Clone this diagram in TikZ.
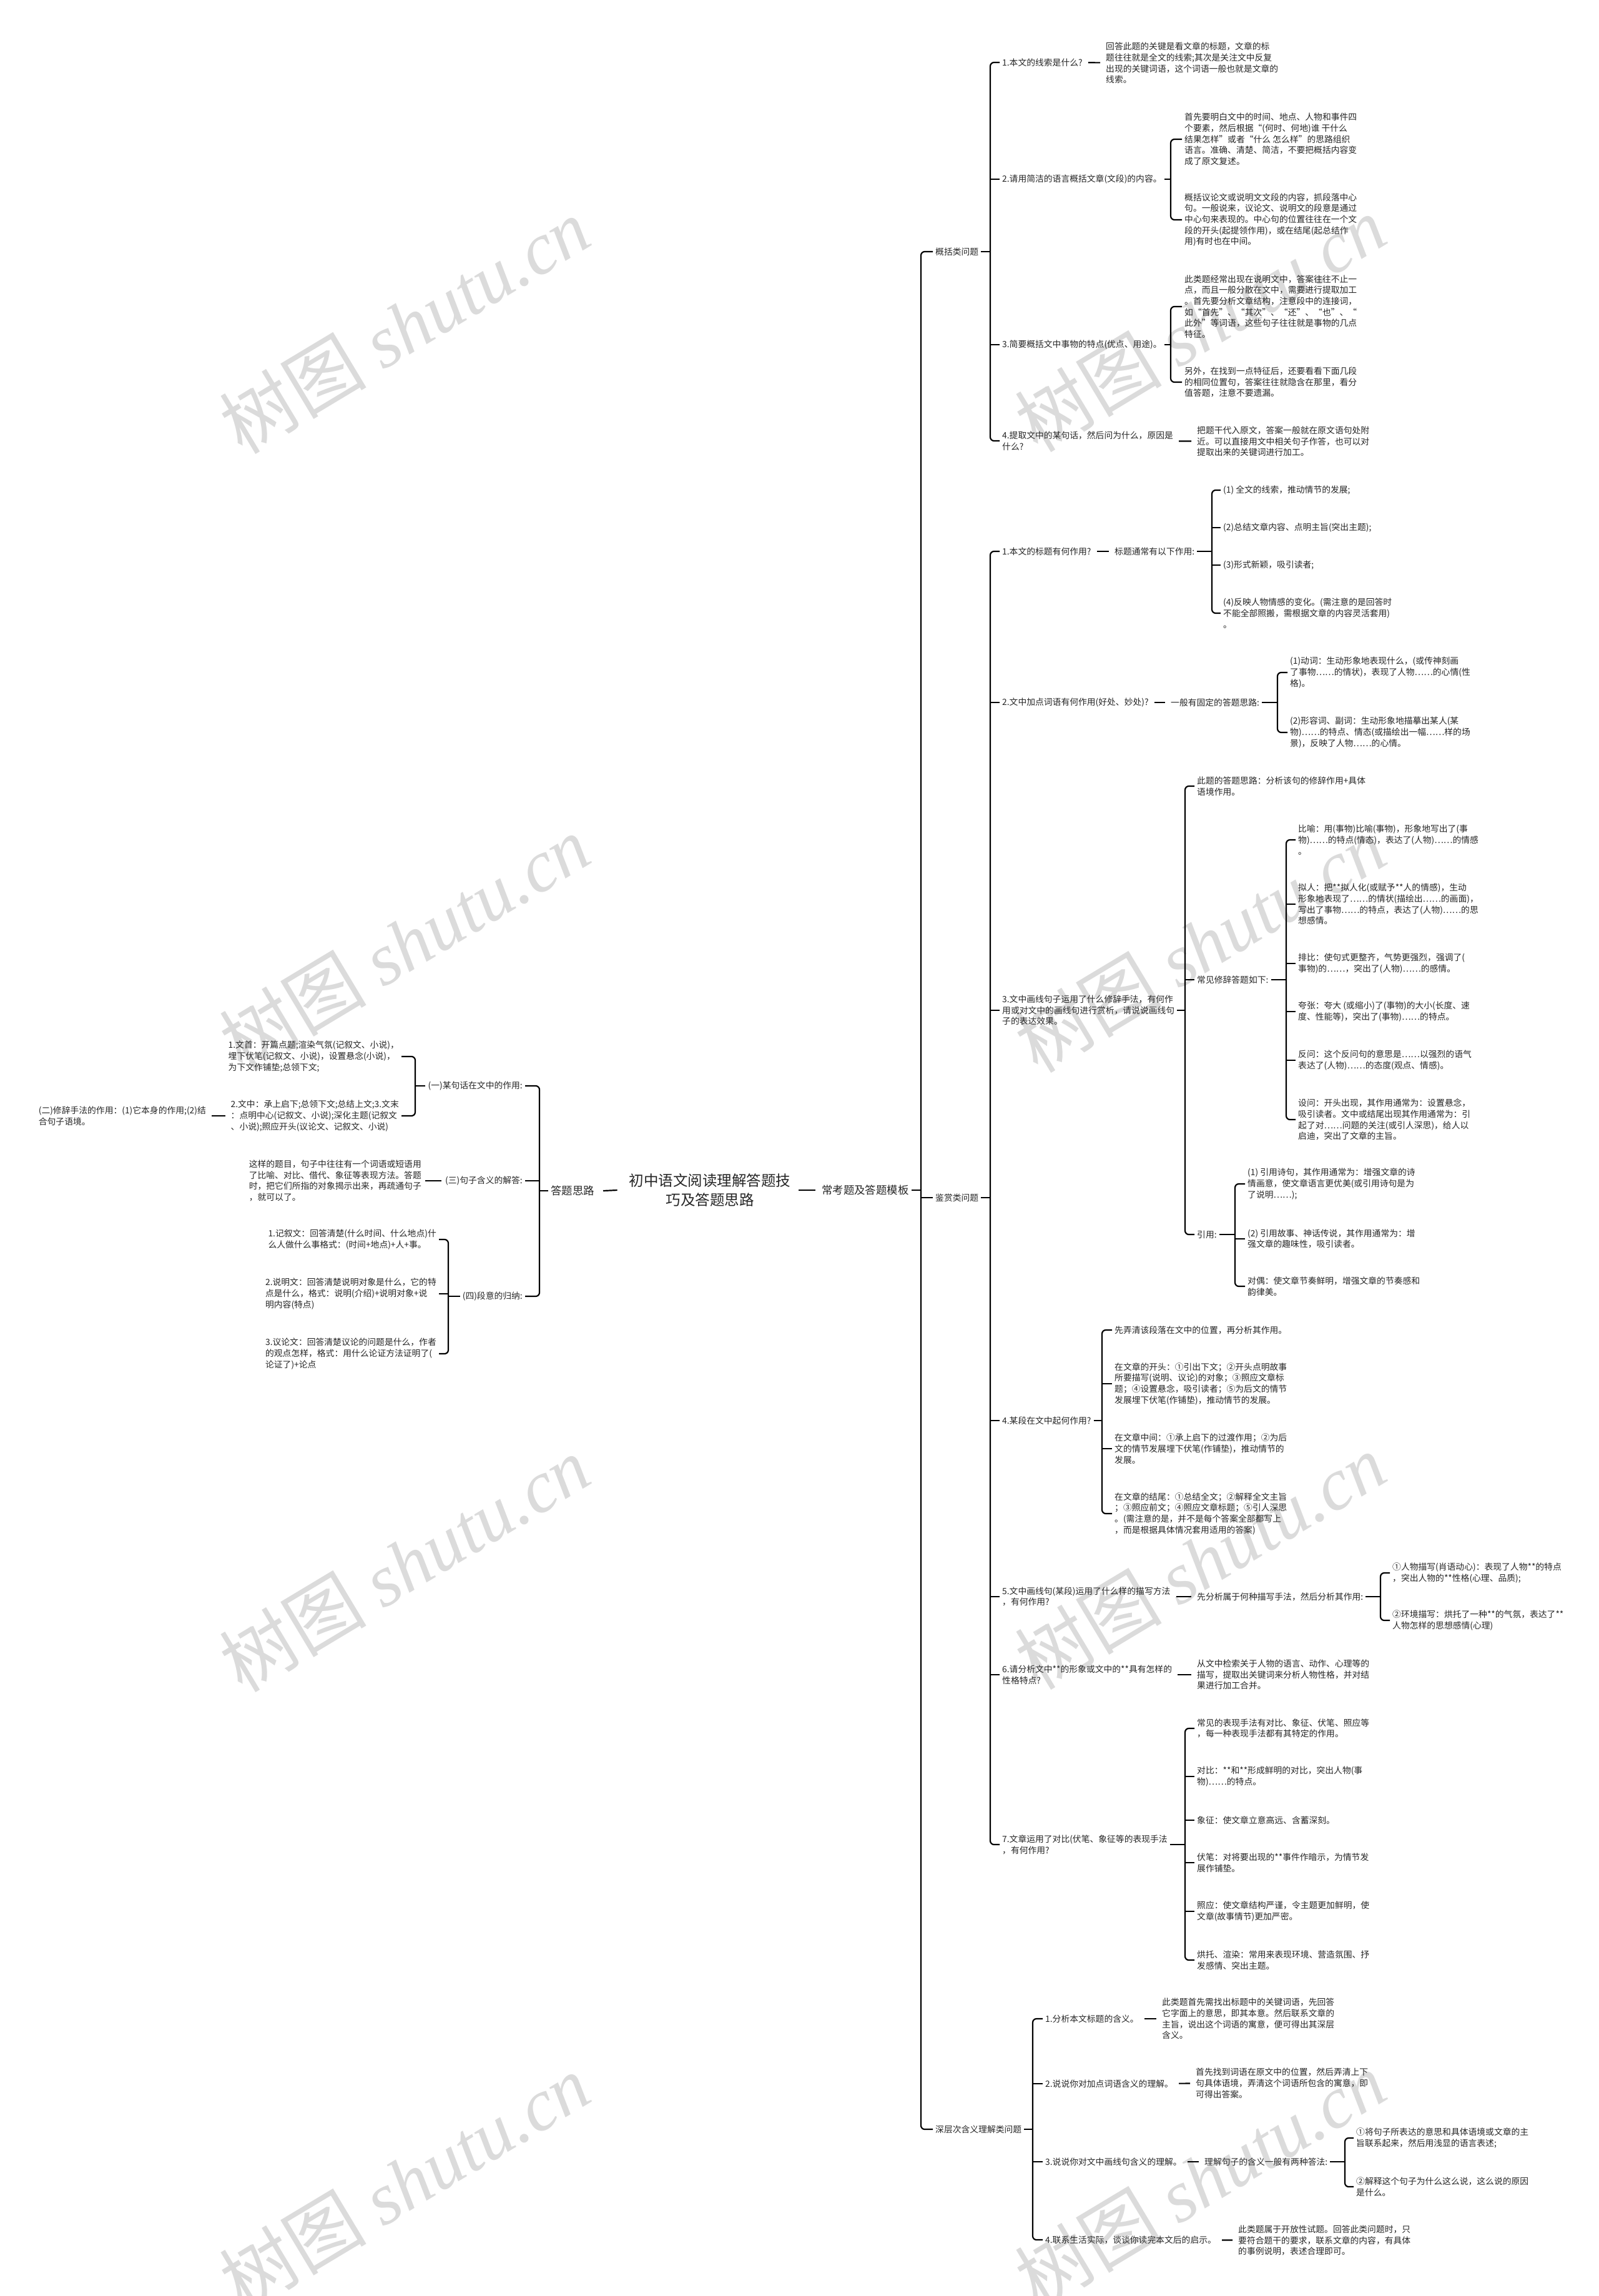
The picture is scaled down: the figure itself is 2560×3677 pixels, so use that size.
\documentclass[tikz,border=0pt]{standalone}
\usepackage{fontspec}
\setmainfont{Noto Sans CJK SC}
\newfontfamily\wmserif{Liberation Serif}
\newcommand\mmR[3]{\draw[conn,rounded corners=6pt] (#1.west) -- (#1.west -| #3) -- (#2.west -| #3) -- (#2.west);}
\newcommand\mmT[2]{\draw[conn] (#1.west -| #2) -- (#1.west);}
\newcommand\mmP[2]{\draw[conn] (#1.east) -- (#1.east -| #2);}
\newcommand\mmRL[3]{\draw[conn,rounded corners=6pt] (#1.east) -- (#1.east -| #3) -- (#2.east -| #3) -- (#2.east);}
\newcommand\mmTL[2]{\draw[conn] (#1.east -| #2) -- (#1.east);}
\newcommand\mmPL[2]{\draw[conn] (#1.west) -- (#1.west -| #2);}
\begin{document}
\begin{tikzpicture}[x=1pt,y=-1pt,
  conn/.style={line width=2.2pt,draw=black},
  link/.style={conn,shorten >=5pt,shorten <=5pt},
  tx/.style={font=\fontsize{13.8}{17.7}\selectfont,align=left,inner xsep=4pt,inner ysep=1pt,text=black!85},
  rt/.style={tx,anchor=west},
  lt/.style={tx,anchor=east},
  big/.style={font=\fontsize{17.4}{21}\selectfont,inner xsep=4pt,inner ysep=1pt,text=black!85},
  wm/.style={font=\fontsize{118}{118}\selectfont,text=black!14,rotate=31,inner sep=0pt}]
\useasboundingbox[fill=white] (0,0) rectangle (2560,3677);
% watermarks
\foreach \wx/\wy [count=\i] in {648/521,1922/518,648/1510,1922/1512,648/2504,1922/2500,648/3494,1922/3490}
  \node[wm] (wm\i) at (\wx,\wy) {树图 {\wmserif\itshape shutu.cn}};
% trunk coordinates
\coordinate (T0) at (1475,0);
\coordinate (TA) at (1586,0);
\coordinate (TA2) at (1875,0);
\coordinate (TA3) at (1875,0);
\coordinate (TB) at (1586,0);
\coordinate (TB1) at (1941,0);
\coordinate (TB2) at (2046,0);
\coordinate (TB3) at (1898,0);
\coordinate (TB3b) at (2060,0);
\coordinate (TB3c) at (1978,0);
\coordinate (TB4) at (1765,0);
\coordinate (TB5) at (2211,0);
\coordinate (TB7) at (1898,0);
\coordinate (TC) at (1654,0);
\coordinate (TC3) at (2154,0);
\coordinate (TL) at (864,0);
\coordinate (TL1) at (665,0);
\coordinate (TL3) at (718,0);
% root
\node[font=\fontsize{23.5}{31}\selectfont,align=center,inner sep=0pt,text=black!85] (R) at (1137,1906) {初中语文阅读理解答题技\\巧及答题思路};
\node[big,anchor=east] (L0) at (956,1907) {答题思路};
\node[big,anchor=west] (R0) at (1312,1906) {常考题及答题模板};
\draw[conn] ([xshift=-19pt]R.west) -- ([xshift=10pt]L0.east);
\draw[conn] ([xshift=13pt]R.east) -- ([xshift=-6pt]R0.west);
% level 1 right
\node[rt] (A) at (1494,403) {概括类问题};
\node[rt] (B) at (1494,1918) {鉴赏类问题};
\node[rt] (C) at (1494,3410) {深层次含义理解类问题};
\mmP{R0}{T0} \mmR{A}{C}{T0} \mmT{B}{T0}
% A
\node[rt] (A1) at (1601,100) {1.本文的线索是什么?};
\node[rt] (A2) at (1601,287) {2.请用简洁的语言概括文章(文段)的内容。};
\node[rt] (A3) at (1601,552) {3.简要概括文中事物的特点(优点、用途)。};
\node[rt] (A4) at (1601,706) {4.提取文中的某句话，然后问为什么，原因是\\什么?};
\mmP{A}{TA} \mmR{A1}{A4}{TA} \mmT{A2}{TA} \mmT{A3}{TA}
\node[rt] (A1L) at (1767,101) {回答此题的关键是看文章的标题，文章的标\\题往往就是全文的线索;其次是关注文中反复\\出现的关键词语，这个词语一般也就是文章的\\线索。};
\draw[link] (A1) -- (A1L);
\node[rt] (A2a) at (1893,223) {首先要明白文中的时间、地点、人物和事件四\\个要素，然后根据“(何时、何地)谁 干什么\\结果怎样”或者“什么 怎么样”的思路组织\\语言。准确、清楚、简洁，不要把概括内容变\\成了原文复述。};
\node[rt] (A2b) at (1893,352) {概括议论文或说明文文段的内容，抓段落中心\\句。一般说来，议论文、说明文的段意是通过\\中心句来表现的。中心句的位置往往在一个文\\段的开头(起提领作用)，或在结尾(起总结作\\用)有时也在中间。};
\mmP{A2}{TA2} \mmR{A2a}{A2b}{TA2}
\node[rt] (A3a) at (1893,491) {此类题经常出现在说明文中，答案往往不止一\\点，而且一般分散在文中，需要进行提取加工\\。首先要分析文章结构，注意段中的连接词，\\如“首先”、“其次”、“还”、“也”、“\\此外”等词语，这些句子往往就是事物的几点\\特征。};
\node[rt] (A3b) at (1893,612) {另外，在找到一点特征后，还要看看下面几段\\的相同位置句，答案往往就隐含在那里，看分\\值答题，注意不要遗漏。};
\mmP{A3}{TA3} \mmR{A3a}{A3b}{TA3}
\node[rt] (A4L) at (1913,707) {把题干代入原文，答案一般就在原文语句处附\\近。可以直接用文中相关句子作答，也可以对\\提取出来的关键词进行加工。};
\draw[link] (A4) -- (A4L);
% B
\node[rt] (B1) at (1601,883) {1.本文的标题有何作用?};
\node[rt] (B2) at (1601,1125) {2.文中加点词语有何作用(好处、妙处)?};
\node[rt] (B3) at (1601,1618) {3.文中画线句子运用了什么修辞手法，有何作\\用或对文中的画线句进行赏析，请说说画线句\\子的表达效果。};
\node[rt] (B4) at (1601,2275) {4.某段在文中起何作用?};
\node[rt] (B5) at (1601,2557) {5.文中画线句(某段)运用了什么样的描写方法\\，有何作用?};
\node[rt] (B6) at (1601,2682) {6.请分析文中**的形象或文中的**具有怎样的\\性格特点?};
\node[rt] (B7) at (1601,2954) {7.文章运用了对比(伏笔、象征等的表现手法\\，有何作用?};
\mmP{B}{TB} \mmR{B1}{B7}{TB} \mmT{B2}{TB} \mmT{B3}{TB} \mmT{B4}{TB} \mmT{B5}{TB} \mmT{B6}{TB}
% B1
\node[rt] (B1m) at (1781,883) {标题通常有以下作用:};
\draw[link] (B1) -- (B1m);
\node[rt] (B1a) at (1955,785) {(1) 全文的线索，推动情节的发展;};
\node[rt] (B1b) at (1955,845) {(2)总结文章内容、点明主旨(突出主题);};
\node[rt] (B1c) at (1955,905) {(3)形式新颖，吸引读者;};
\node[rt] (B1d) at (1955,982) {(4)反映人物情感的变化。(需注意的是回答时\\不能全部照搬，需根据文章的内容灵活套用)\\。};
\mmP{B1m}{TB1} \mmR{B1a}{B1d}{TB1} \mmT{B1b}{TB1} \mmT{B1c}{TB1}
% B2
\node[rt] (B2m) at (1871,1125) {一般有固定的答题思路:};
\draw[link] (B2) -- (B2m);
\node[rt] (B2a) at (2062,1077) {(1)动词：生动形象地表现什么，(或传神刻画\\了事物……的情状)，表现了人物……的心情(性\\格)。};
\node[rt] (B2b) at (2062,1173) {(2)形容词、副词：生动形象地描摹出某人(某\\物)……的特点、情态(或描绘出一幅……样的场\\景)，反映了人物……的心情。};
\mmP{B2m}{TB2} \mmR{B2a}{B2b}{TB2}
% B3
\node[rt] (B3a) at (1913,1259) {此题的答题思路：分析该句的修辞作用+具体\\语境作用。};
\node[rt] (B3b) at (1913,1569) {常见修辞答题如下:};
\node[rt] (B3c) at (1913,1977) {引用:};
\mmP{B3}{TB3} \mmR{B3a}{B3c}{TB3} \mmT{B3b}{TB3}
\node[rt] (B3b1) at (2075,1345) {比喻：用(事物)比喻(事物)，形象地写出了(事\\物)……的特点(情态)，表达了(人物)……的情感\\。};
\node[rt] (B3b2) at (2075,1448) {拟人：把**拟人化(或赋予**人的情感)，生动\\形象地表现了……的情状(描绘出……的画面)，\\写出了事物……的特点，表达了(人物)……的思\\想感情。};
\node[rt] (B3b3) at (2075,1543) {排比：使句式更整齐，气势更强烈，强调了(\\事物)的……，突出了(人物)……的感情。};
\node[rt] (B3b4) at (2075,1620) {夸张：夸大 (或缩小)了(事物)的大小(长度、速\\度、性能等)，突出了(事物)……的特点。};
\node[rt] (B3b5) at (2075,1698) {反问：这个反问句的意思是……以强烈的语气\\表达了(人物)……的态度(观点、情感)。};
\node[rt] (B3b6) at (2075,1793) {设问：开头出现，其作用通常为：设置悬念，\\吸引读者。文中或结尾出现其作用通常为：引\\起了对……问题的关注(或引人深思)，给人以\\启迪，突出了文章的主旨。};
\mmP{B3b}{TB3b} \mmR{B3b1}{B3b6}{TB3b} \mmT{B3b2}{TB3b} \mmT{B3b3}{TB3b} \mmT{B3b4}{TB3b} \mmT{B3b5}{TB3b}
\node[rt] (B3c1) at (1994,1896) {(1) 引用诗句，其作用通常为：增强文章的诗\\情画意，使文章语言更优美(或引用诗句是为\\了说明……);};
\node[rt] (B3c2) at (1994,1984) {(2) 引用故事、神话传说，其作用通常为：增\\强文章的趣味性，吸引读者。};
\node[rt] (B3c3) at (1994,2060) {对偶：使文章节奏鲜明，增强文章的节奏感和\\韵律美。};
\mmP{B3c}{TB3c} \mmR{B3c1}{B3c3}{TB3c} \mmT{B3c2}{TB3c}
% B4
\node[rt] (B4a) at (1781,2130) {先弄清该段落在文中的位置，再分析其作用。};
\node[rt] (B4b) at (1781,2216) {在文章的开头：①引出下文；②开头点明故事\\所要描写(说明、议论)的对象；③照应文章标\\题；④设置悬念，吸引读者；⑤为后文的情节\\发展埋下伏笔(作铺垫)，推动情节的发展。};
\node[rt] (B4c) at (1781,2320) {在文章中间：①承上启下的过渡作用；②为后\\文的情节发展埋下伏笔(作铺垫)，推动情节的\\发展。};
\node[rt] (B4d) at (1781,2424) {在文章的结尾：①总结全文；②解释全文主旨\\；③照应前文；④照应文章标题；⑤引人深思\\。(需注意的是，并不是每个答案全部都写上\\，而是根据具体情况套用适用的答案)};
\mmP{B4}{TB4} \mmR{B4a}{B4d}{TB4} \mmT{B4b}{TB4} \mmT{B4c}{TB4}
% B5
\node[rt] (B5m) at (1913,2557) {先分析属于何种描写手法，然后分析其作用:};
\draw[link] (B5) -- (B5m);
\node[rt] (B5a) at (2226,2519) {①人物描写(肖语动心)：表现了人物**的特点\\，突出人物的**性格(心理、品质);};
\node[rt] (B5b) at (2226,2595) {②环境描写：烘托了一种**的气氛，表达了**\\人物怎样的思想感情(心理)};
\mmP{B5m}{TB5} \mmR{B5a}{B5b}{TB5}
% B6
\node[rt] (B6L) at (1913,2682) {从文中检索关于人物的语言、动作、心理等的\\描写，提取出关键词来分析人物性格，并对结\\果进行加工合并。};
\draw[link] (B6) -- (B6L);
% B7
\node[rt] (B7a) at (1913,2768) {常见的表现手法有对比、象征、伏笔、照应等\\，每一种表现手法都有其特定的作用。};
\node[rt] (B7b) at (1913,2845) {对比：**和**形成鲜明的对比，突出人物(事\\物)……的特点。};
\node[rt] (B7c) at (1913,2915) {象征：使文章立意高远、含蓄深刻。};
\node[rt] (B7d) at (1913,2983) {伏笔：对将要出现的**事件作暗示，为情节发\\展作铺垫。};
\node[rt] (B7e) at (1913,3061) {照应：使文章结构严谨，令主题更加鲜明，使\\文章(故事情节)更加严密。};
\node[rt] (B7f) at (1913,3139) {烘托、渲染：常用来表现环境、营造氛围、抒\\发感情、突出主题。};
\mmP{B7}{TB7} \mmR{B7a}{B7f}{TB7} \mmT{B7b}{TB7} \mmT{B7c}{TB7} \mmT{B7d}{TB7} \mmT{B7e}{TB7}
% C
\node[rt] (C1) at (1670,3233) {1.分析本文标题的含义。};
\node[rt] (C2) at (1670,3337) {2.说说你对加点词语含义的理解。};
\node[rt] (C3) at (1670,3462) {3.说说你对文中画线句含义的理解。};
\node[rt] (C4) at (1670,3587) {4.联系生活实际，谈谈你读完本文后的启示。};
\mmP{C}{TC} \mmR{C1}{C4}{TC} \mmT{C2}{TC} \mmT{C3}{TC}
\node[rt] (C1L) at (1857,3233) {此类题首先需找出标题中的关键词语，先回答\\它字面上的意思，即其本意。然后联系文章的\\主旨，说出这个词语的寓意，便可得出其深层\\含义。};
\draw[link] (C1) -- (C1L);
\node[rt] (C2L) at (1911,3336) {首先找到词语在原文中的位置，然后弄清上下\\句具体语境，弄清这个词语所包含的寓意，即\\可得出答案。};
\draw[link] (C2) -- (C2L);
\node[rt] (C3m) at (1925,3462) {理解句子的含义一般有两种答法:};
\draw[link] (C3) -- (C3m);
\node[rt] (C3a) at (2168,3424) {①将句子所表达的意思和具体语境或文章的主\\旨联系起来，然后用浅显的语言表述;};
\node[rt] (C3b) at (2168,3502) {②解释这个句子为什么这么说，这么说的原因\\是什么。};
\mmP{C3m}{TC3} \mmR{C3a}{C3b}{TC3}
\node[rt] (C4L) at (1979,3588) {此类题属于开放性试题。回答此类问题时，只\\要符合题干的要求，联系文章的内容，有具体\\的事例说明，表述合理即可。};
\draw[link] (C4) -- (C4L);
% left side
\node[lt] (L1) at (841,1739) {(一)某句话在文中的作用:};
\node[lt] (L2) at (841,1891) {(三)句子含义的解答:};
\node[lt] (L3) at (841,2076) {(四)段意的归纳:};
\mmPL{L0}{TL} \mmRL{L1}{L3}{TL} \mmTL{L2}{TL}
\node[lt] (L1a) at (643,1692) {1.文首：开篇点题;渲染气氛(记叙文、小说)，\\埋下伏笔(记叙文、小说)，设置悬念(小说)，\\为下文作铺垫;总领下文;};
\node[lt] (L1b) at (643,1787) {2.文中：承上启下;总领下文;总结上文;3.文末\\：点明中心(记叙文、小说);深化主题(记叙文\\、小说);照应开头(议论文、记叙文、小说)};
\mmPL{L1}{TL1} \mmRL{L1a}{L1b}{TL1}
\node[lt] (L1bL) at (334,1787) {(二)修辞手法的作用：(1)它本身的作用;(2)结\\合句子语境。};
\draw[link] (L1b) -- (L1bL);
\node[lt] (L2L) at (679,1891) {这样的题目，句子中往往有一个词语或短语用\\了比喻、对比、借代、象征等表现方法。答题\\时，把它们所指的对象揭示出来，再疏通句子\\，就可以了。};
\draw[conn,shorten >=2pt,shorten <=2pt] (L2) -- (L2L);
\node[lt] (L3a) at (703,1985) {1.记叙文：回答清楚(什么时间、什么地点)什\\么人做什么事格式：(时间+地点)+人+事。};
\node[lt] (L3b) at (703,2072) {2.说明文：回答清楚说明对象是什么，它的特\\点是什么，格式：说明(介绍)+说明对象+说\\明内容(特点)};
\node[lt] (L3c) at (703,2168) {3.议论文：回答清楚议论的问题是什么，作者\\的观点怎样，格式：用什么论证方法证明了(\\论证了)+论点};
\mmPL{L3}{TL3} \mmRL{L3a}{L3c}{TL3} \mmTL{L3b}{TL3}
\end{tikzpicture}
\end{document}
